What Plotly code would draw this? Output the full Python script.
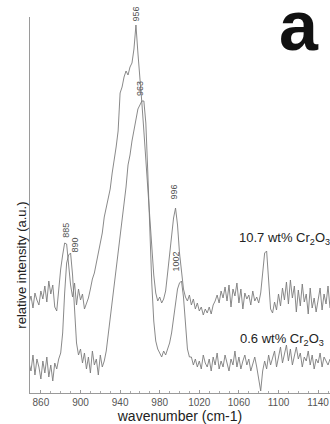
import numpy as np
import plotly.graph_objects as go

# wavenumber grid (cm-1), 2 cm-1 sampling
wavenumber = np.arange(848, 1153, 2)

# Raman intensity, 10.7 wt% Cr2O3 sample (arbitrary units)
high_cr = [
    90, 97, 85, 100, 93, 88, 102, 94, 107, 91, 112, 99, 108, 86, 82,
    106, 124, 138, 150, 149,
    128, 108, 96, 110, 88, 104, 93, 99, 84, 90,
    95, 104, 114, 120, 132, 140, 150, 160, 176, 186, 196, 204,
    220, 232, 246, 262, 300, 306, 316, 322, 318, 326, 330, 344,
    368,
    340, 318, 290, 262, 232, 200, 168, 140, 118, 100, 92, 96, 90, 94, 102,
    120, 140, 160, 175, 185, 168, 140, 120, 104, 96, 92, 98,
    88, 94, 84, 90, 82, 86, 78, 84, 80, 86, 79, 88,
    92, 98, 90, 102, 95, 106, 92, 108, 86, 104, 97, 110,
    90, 104, 84, 100, 94, 98, 88, 102, 92, 96, 90, 100,
    118, 140, 142, 112, 84, 80,
    91, 83, 99, 87, 105, 93, 111, 89, 113, 95, 107, 81, 103, 87, 109,
    91, 99, 79, 105, 85, 95, 81, 93, 105, 83, 99, 89, 107, 85,
]

# Raman intensity, 0.6 wt% Cr2O3 sample (arbitrary units)
low_cr = [
    30, 22, 38, 18, 34, 26, 14, 32, 20, 36, 16, 28, 12, 30, 24, 34,
    40, 60, 100, 130, 138, 140, 118, 80, 50, 38,
    44, 30, 40, 24, 36, 20, 42, 28, 34, 18, 38, 26, 32,
    42, 58, 76, 92, 108, 124, 138, 152, 170, 186, 206, 228, 238, 252,
    264, 276, 284, 288, 292, 292, 270, 220, 160, 110, 72, 52, 44, 40,
    36, 42, 38, 44, 50, 60, 76, 92, 104, 110, 112, 96, 70, 44, 36,
    36, 28, 34, 26, 32, 24, 38, 30, 26, 34, 22, 36, 28, 40, 24, 32, 26,
    38, 30, 22, 34, 28, 42, 26, 36, 24, 32, 38, 28, 34, 22, 30, 36, 26,
    14, 2, 22,
    32, 24, 38, 28, 34, 42, 26, 36, 46, 30, 40, 48, 32, 44, 28, 38, 46,
    34, 40, 26, 36, 32, 42, 28, 38, 24, 34, 30, 40, 26, 36, 32, 28, 34,
]

# peak annotations: (label, wavenumber position, intensity position)
peak_labels = [
    ("963", 960, 305),
    ("996", 994, 201),
    ("1002", 996, 131),
    ("885", 885, 163),
    ("890", 894, 148),
]
# the main band label sits above the top of the frame
top_peak_label = ("956", 956)

# sample names: (text, wavenumber of left edge, intensity)
sample_labels = [
    ("10.7 wt% Cr<sub>2</sub>O<sub>3</sub>", 1058, 155),
    ("0.6 wt% Cr<sub>2</sub>O<sub>3</sub>", 1059, 54),
]

x_ticks = [860, 900, 940, 980, 1020, 1060, 1100, 1140]

FONT = "Liberation Sans, Arial, sans-serif"
LINE = "#7c7c7c"
LABEL = "#505050"

fig = go.Figure()
for series in (high_cr, low_cr):
    fig.add_trace(go.Scatter(
        x=wavenumber, y=series, mode="lines",
        line=dict(color=LINE, width=0.9),
        showlegend=False, hoverinfo="skip",
    ))

for text, px, py in peak_labels:
    fig.add_annotation(
        x=px, y=py, xref="x", yref="y", text=text, showarrow=False,
        textangle=-90, font=dict(family=FONT, size=9, color=LABEL),
    )

fig.add_annotation(
    x=top_peak_label[1], y=1.0, xref="x", yref="paper",
    text=top_peak_label[0], showarrow=False, textangle=-90,
    yanchor="bottom", yshift=-6,
    font=dict(family=FONT, size=9, color=LABEL),
)

for text, px, py in sample_labels:
    fig.add_annotation(
        x=px, y=py, xref="x", yref="y", text=text, showarrow=False,
        xanchor="left", yanchor="middle",
        font=dict(family=FONT, size=13, color="#222"),
    )

# panel letter
fig.add_annotation(
    x=0.895, y=0.975, xref="paper", yref="paper", text="<b>a</b>",
    showarrow=False, xanchor="center", yanchor="middle",
    font=dict(family=FONT, size=70, color="#111"),
)

# y axis title
fig.add_annotation(
    x=-0.06, y=0.34, xref="paper", yref="paper",
    text="relative intensity (a.u.)", showarrow=False, textangle=-90,
    font=dict(family=FONT, size=13, color="#222"),
)

fig.update_xaxes(
    range=[849, 1152], tickvals=x_ticks,
    showline=True, linecolor="#9a9a9a", linewidth=1,
    ticks="inside", ticklen=3, tickcolor="#9a9a9a",
    minor=dict(dtick=10, ticks="inside", ticklen=2, tickcolor="#aaa"),
    showgrid=False, zeroline=False,
    tickfont=dict(family=FONT, size=10, color="#555"),
    title=dict(text="wavenumber (cm-1)", standoff=4,
               font=dict(family=FONT, size=14, color="#222")),
)
fig.update_yaxes(
    range=[0, 376], showline=True, linecolor="#9a9a9a", linewidth=1,
    showticklabels=False, ticks="", showgrid=False, zeroline=False,
)

fig.update_layout(
    width=330, height=424,
    margin=dict(l=30, r=0, t=17, b=31),
    paper_bgcolor="white", plot_bgcolor="white",
)

fig.write_html("out.html")
